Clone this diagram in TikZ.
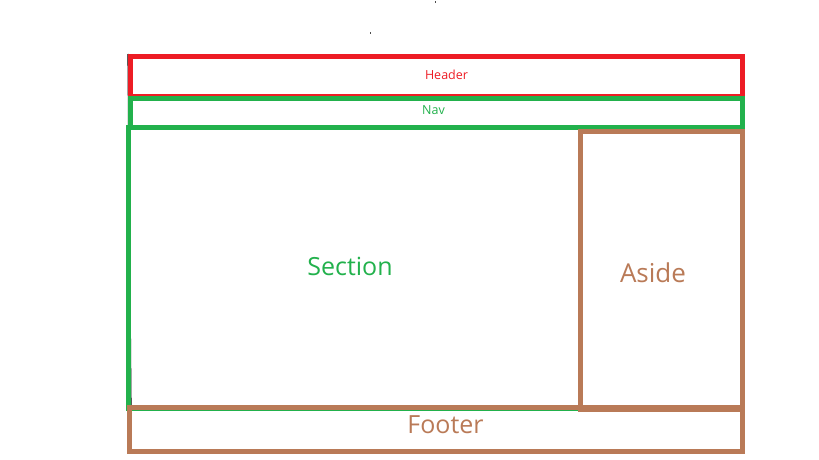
\documentclass[tikz,border=0pt]{standalone}
\usepackage{fontspec}
\setmainfont{Open Sans}
\usepackage{xcolor}
\usepackage{tikz}

\definecolor{paintred}{HTML}{ED1C24}
\definecolor{paintgreen}{HTML}{22B14C}
\definecolor{paintbrown}{HTML}{B97A57}

\begin{document}
\begin{tikzpicture}[
        x=1pt, y=-1pt,
        % Styles des cadres
        frame/.style={line width=5pt},
        headerbox/.style={frame, draw=paintred},
        navbox/.style={frame, draw=paintgreen},
        sectionbox/.style={frame, draw=paintgreen},
        asidebox/.style={frame, draw=paintbrown},
        footerbox/.style={frame, draw=paintbrown},
        guide/.style={line width=1.2pt, draw=black},
        % Styles des textes
        smalllabel/.style={anchor=base, inner sep=0pt, font=\fontsize{12.5}{14}\selectfont},
        biglabel/.style={anchor=base, inner sep=0pt, font=\fontsize{25}{30}\selectfont}
    ]

    \useasboundingbox (0,0) rectangle (819,460);

    % Traits noirs
    \coordinate (lefttop) at (128,54);
    \coordinate (leftbottom) at (131,410);
    \coordinate (baseleft) at (127,453.8);
    \coordinate (baseright) at (744.7,453.8);
    \draw[guide] (lefttop) -- (leftbottom);
    \draw[guide] (baseleft) -- (baseright);

    % Points isoles
    \fill[black!70] (435,1.4) rectangle (436.3,2.7);
    \fill[black!70] (370,32.4) rectangle (371.3,33.7);

    % Cadres
    \draw[headerbox] (130.5,56.5) rectangle (742.3,96.5);
    \draw[navbox] (130.5,98.2) rectangle (742.3,127.8);
    \draw[sectionbox] (128.3,127.8) rectangle (580,408.5);
    \draw[asidebox] (580.5,131.5) rectangle (742.3,409.5);
    \draw[footerbox] (129.5,407) rectangle (742.3,451);

    % Textes
    \node[smalllabel, text=paintred] (header) at (446.5,80) {Header};
    \node[smalllabel, text=paintgreen] (nav) at (433.5,114) {Nav};
    \node[biglabel, text=paintgreen] (section) at (350,275) {Section};
    \node[biglabel, text=paintbrown, font=\fontsize{26}{31}\selectfont] (aside) at (653,282) {Aside};
    \node[biglabel, text=paintbrown] (footer) at (445.5,433) {Footer};

\end{tikzpicture}
\end{document}
